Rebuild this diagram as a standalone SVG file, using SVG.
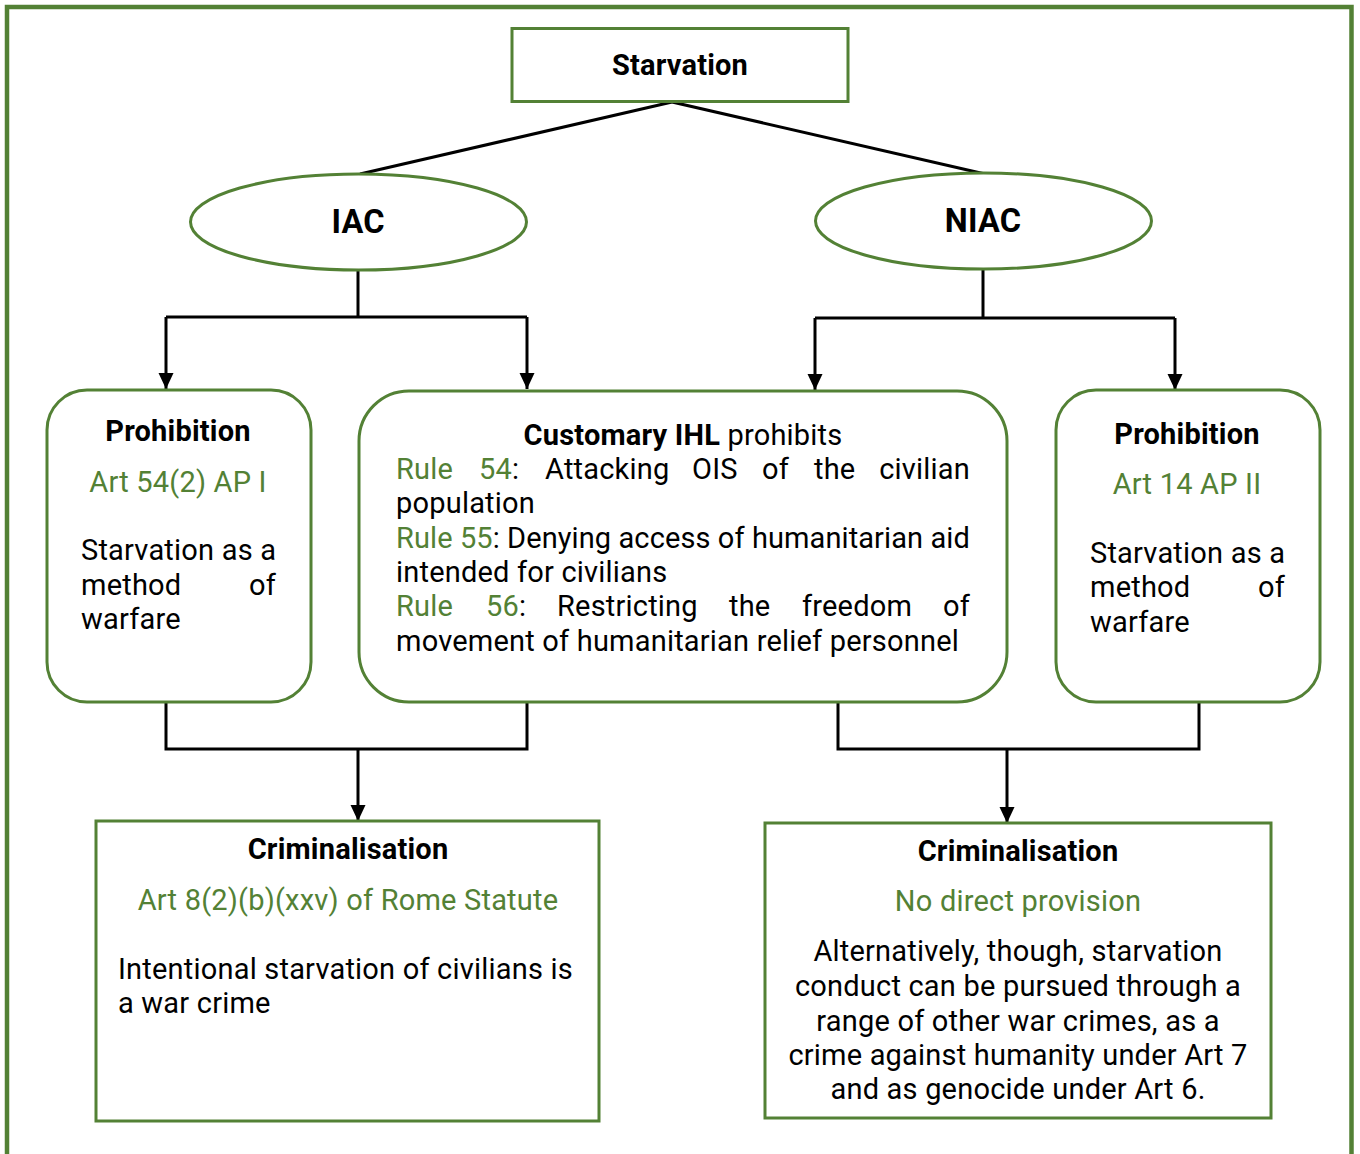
<svg xmlns="http://www.w3.org/2000/svg" width="1360" height="1154" viewBox="0 0 1360 1154">
<defs>
<style>
text{font-family:Roboto,"Liberation Sans",sans-serif;font-size:29px;letter-spacing:0.2px;fill:#000}
.b{font-weight:bold}
.g{fill:#538135}
.c{text-anchor:middle}
.e{text-anchor:end}
.big{font-size:32.5px}
.box{fill:#fff;stroke:#538135;stroke-width:3}
.ln{fill:none;stroke:#000;stroke-width:3}
</style>
<marker id="arr" markerUnits="userSpaceOnUse" markerWidth="17" markerHeight="16" refX="16" refY="7.5" orient="auto">
<path d="M0,0 L16,7.5 L0,15 Z" fill="#000"/>
</marker>
</defs>
<rect width="1360" height="1154" fill="#fff"/>
<path d="M7,1154 V7 H1351.5 V1154" fill="none" stroke="#538135" stroke-width="4.5"/>

<g id="connectors">
<path class="ln" d="M672,102 L360,174"/>
<path class="ln" d="M672,102 L985,174"/>
<path class="ln" d="M358,270 V317"/>
<path class="ln" d="M166,317 H527"/>
<path class="ln" d="M166,317 V389" marker-end="url(#arr)"/>
<path class="ln" d="M527,317 V389" marker-end="url(#arr)"/>
<path class="ln" d="M983,269 V318"/>
<path class="ln" d="M815,318 H1175"/>
<path class="ln" d="M815,318 V390" marker-end="url(#arr)"/>
<path class="ln" d="M1175,318 V390" marker-end="url(#arr)"/>
<path class="ln" d="M166,702 V749 H527 V702"/>
<path class="ln" d="M358,749 V821" marker-end="url(#arr)"/>
<path class="ln" d="M838,702 V749 H1199 V702"/>
<path class="ln" d="M1007,749 V823" marker-end="url(#arr)"/>
</g>

<g id="starvation">
<rect class="box" x="512" y="28.5" width="336" height="73"/>
<text class="b c" x="680" y="75">Starvation</text>
</g>

<g id="iac">
<ellipse class="box" cx="358.5" cy="222" rx="168" ry="48"/>
<text class="b c big" x="358" y="233">IAC</text>
</g>

<g id="niac">
<ellipse class="box" cx="983.5" cy="221" rx="168" ry="48"/>
<text class="b c big" x="983" y="232">NIAC</text>
</g>

<g id="prohibition-iac">
<rect class="box" x="47" y="390" width="264" height="312" rx="40"/>
<text class="b c" x="178" y="441">Prohibition</text>
<text class="g c" x="178" y="492">Art 54(2) AP I</text>
<text x="81" y="560">Starvation as a</text>
<text x="81" y="595">method</text>
<text class="e" x="276" y="595">of</text>
<text x="81" y="629">warfare</text>
</g>

<g id="customary-ihl">
<rect class="box" x="359" y="391" width="648" height="311" rx="50"/>
<text class="c" x="683" y="445"><tspan class="b">Customary IHL</tspan> prohibits</text>
<text x="396" y="479"><tspan class="g">Rule</tspan></text>
<text x="479" y="479"><tspan class="g">54</tspan>:</text>
<text x="545" y="479">Attacking</text>
<text x="692" y="479">OIS</text>
<text x="762" y="479">of</text>
<text x="814" y="479">the</text>
<text class="e" x="970" y="479">civilian</text>
<text x="396" y="513">population</text>
<text x="396" y="548" textLength="574" lengthAdjust="spacing"><tspan class="g">Rule 55</tspan>: Denying access of humanitarian aid</text>
<text x="396" y="582">intended for civilians</text>
<text x="396" y="616"><tspan class="g">Rule</tspan></text>
<text x="486" y="616"><tspan class="g">56</tspan>:</text>
<text x="557" y="616">Restricting</text>
<text x="729" y="616">the</text>
<text x="802" y="616">freedom</text>
<text class="e" x="970" y="616">of</text>
<text x="396" y="651">movement of humanitarian relief personnel</text>
</g>

<g id="prohibition-niac">
<rect class="box" x="1056" y="390" width="264" height="312" rx="40"/>
<text class="b c" x="1187" y="444">Prohibition</text>
<text class="g c" x="1187" y="494">Art 14 AP II</text>
<text x="1090" y="563">Starvation as a</text>
<text x="1090" y="597">method</text>
<text class="e" x="1285" y="597">of</text>
<text x="1090" y="632">warfare</text>
</g>

<g id="criminalisation-iac">
<rect class="box" x="96" y="821" width="503" height="300"/>
<text class="b c" x="348" y="859">Criminalisation</text>
<text class="g c" x="348" y="910">Art 8(2)(b)(xxv) of Rome Statute</text>
<text x="118" y="979">Intentional starvation of civilians is</text>
<text x="118" y="1013">a war crime</text>
</g>

<g id="criminalisation-niac">
<rect class="box" x="765" y="823" width="506" height="295"/>
<text class="b c" x="1018" y="861">Criminalisation</text>
<text class="g c" x="1018" y="911">No direct provision</text>
<text class="c" x="1018" y="961">Alternatively, though, starvation</text>
<text class="c" x="1018" y="996">conduct can be pursued through a</text>
<text class="c" x="1018" y="1031">range of other war crimes, as a</text>
<text class="c" x="1018" y="1065">crime against humanity under Art 7</text>
<text class="c" x="1018" y="1099">and as genocide under Art 6.</text>
</g>
</svg>
